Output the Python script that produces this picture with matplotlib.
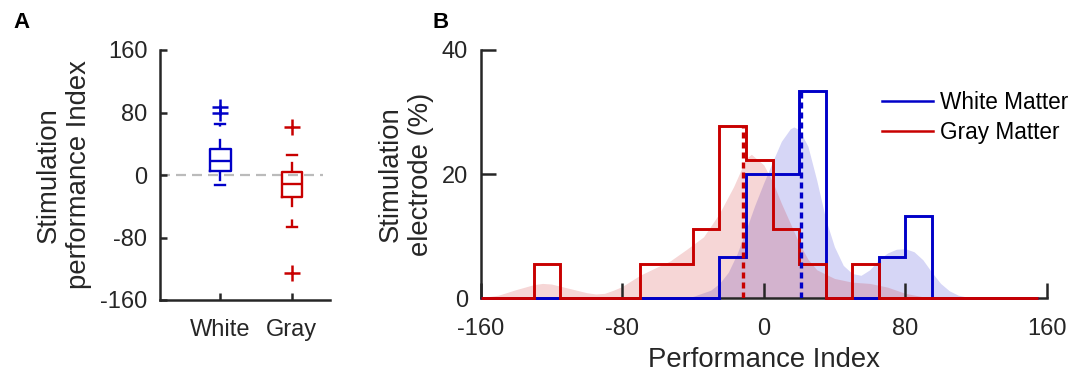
import numpy as np
import matplotlib
matplotlib.use("Agg")
import matplotlib.pyplot as plt
from matplotlib.lines import Line2D

plt.rcParams['font.family'] = ['Liberation Sans', 'DejaVu Sans']

# ---- Panel A: box plot summaries of the stimulation performance index ----
box_labels = ["White", "Gray"]
white_box = dict(whislo=-13, q1=5, med=18, q3=33, whishi=65, fliers=[80, 87])
gray_box = dict(whislo=-66, q1=-28, med=-12, q3=4, whishi=25, fliers=[62, -125])

# ---- Panel B: histograms (% of electrodes) and smoothed densities ----
bin_edges = np.arange(-160, 156, 15)
white_pct = [0, 0, 0, 0, 0, 0, 0, 0, 0, 6.67, 20.0, 20.0, 33.33, 0, 0, 6.67, 13.33, 0, 0, 0, 0]
gray_pct = [0, 0, 5.56, 0, 0, 0, 5.56, 5.56, 11.11, 27.78, 22.22, 11.11, 5.56, 0, 5.56, 0, 0, 0, 0, 0, 0]

white_center = 21.0
gray_center = -11.5

white_kde_x = [-50, -40, -30, -25, -20, -15, -10, -5, 0, 5, 10, 15, 17, 20, 25, 30, 35, 40, 45,
               50, 55, 60, 65, 70, 75, 80, 85, 90, 95, 100, 105, 110, 115, 125]
white_kde_y = [0, 0.3, 1.3, 2.4, 4.2, 7.2, 11.0, 15.0, 18.6, 22.0, 25.3, 27.3, 27.6, 27.2, 24.5,
               19.0, 12.8, 8.3, 5.3, 4.0, 3.7, 4.6, 6.2, 7.3, 7.9, 8.0, 7.5, 6.2, 4.2, 2.4, 1.2, 0.5, 0.2, 0]

gray_kde_x = [-160, -150, -140, -130, -125, -120, -110, -100, -95, -90, -85, -80, -70, -62, -53,
              -44, -34, -25, -17, -10, -7, 0, 5, 10, 15, 20, 25, 30, 35, 40, 50, 60, 70, 80, 90, 100, 110]
gray_kde_y = [0.1, 0.5, 1.4, 2.2, 2.4, 2.3, 1.6, 0.9, 0.7, 0.8, 1.3, 1.9, 3.7, 4.8, 6.0,
              7.8, 9.9, 13.7, 18.0, 22.5, 23.2, 21.5, 18.8, 15.3, 12.1, 8.9, 6.3, 4.6, 3.9, 3.2,
              2.6, 2.4, 1.8, 0.8, 0.25, 0.05, 0]

blue = '#0000C8'
red = '#C80000'
axis_col = '#262626'

fig = plt.figure(figsize=(10.73, 3.76), dpi=100)

# ---------------- Panel A ----------------
axA = fig.add_axes([160 / 1073, 1 - 300 / 376, 170 / 1073, 250 / 376])
axA.axhline(0, xmin=0, xmax=0.96, color='#BBBBBB', lw=1.6, ls=(0, (4.5, 2.7)), zorder=1)

for pos, st, col in [(1, white_box, blue), (2, gray_box, red)]:
    axA.bxp([st], positions=[pos], widths=0.29, capwidths=0.13, showfliers=True,
            manage_ticks=False,
            boxprops=dict(color=col, lw=1.7),
            medianprops=dict(color=col, lw=1.7),
            whiskerprops=dict(color=col, lw=1.7, ls=(0, (4.3, 5.2))),
            capprops=dict(color=col, lw=1.7),
            flierprops=dict(marker='+', markersize=12, markeredgewidth=1.8,
                            markeredgecolor=col, linestyle='none'))

axA.set_xlim(0.163, 2.53)
axA.set_ylim(-160, 160)
axA.set_yticks([-160, -80, 0, 80, 160])
axA.set_yticklabels(['-160', '-80', '0', '80', '160'])
axA.set_xticks([1, 2])
axA.set_xticklabels(box_labels)
axA.set_ylabel('Stimulation\nperformance Index', fontsize=19.8, color=axis_col, labelpad=6)

# ---------------- Panel B ----------------
axB = fig.add_axes([480.7 / 1073, 1 - 298.3 / 376, 566 / 1073, 248.3 / 376])

axB.fill_between(white_kde_x, white_kde_y, color=blue, alpha=0.16, lw=0, zorder=1)
axB.fill_between(gray_kde_x, gray_kde_y, color=red, alpha=0.16, lw=0, zorder=1)

axB.stairs(white_pct, bin_edges, baseline=0, fill=False, color=blue, lw=2.1,
           zorder=3, clip_on=False, label='White Matter')
axB.stairs(gray_pct, bin_edges, baseline=0, fill=False, color=red, lw=2.1,
           zorder=3.1, clip_on=False, label='Gray Matter')

axB.vlines(white_center, 0, max(white_pct), color=blue, lw=2.4, ls=(0, (1.8, 1.2)), zorder=3.2)
axB.vlines(gray_center, 0, max(gray_pct), color=red, lw=2.4, ls=(0, (1.8, 1.2)), zorder=3.2)

axB.set_xlim(-160, 160)
axB.set_ylim(0, 40)
axB.set_xticks([-160, -80, 0, 80, 160])
axB.set_xticklabels(['-160', '-80', '0', '80', '160'])
axB.set_yticks([0, 20, 40])
axB.set_xlabel('Performance Index', fontsize=19.8, color=axis_col, labelpad=5)
axB.set_ylabel('Stimulation\nelectrode (%)', fontsize=19.8, color=axis_col, labelpad=6)

handles = [Line2D([], [], color=blue, lw=1.8), Line2D([], [], color=red, lw=1.8)]
fig.legend(handles, ['White Matter', 'Gray Matter'], loc='upper left',
           bbox_to_anchor=(881.7 / 1073, 1 - 91 / 376), frameon=False, fontsize=16.3,
           handlelength=2.25, handletextpad=0.32, labelspacing=0.3, borderaxespad=0,
           borderpad=0)

for ax, tlen in [(axA, 5.0), (axB, 10.5)]:
    for side in ['top', 'right']:
        ax.spines[side].set_visible(False)
    for side in ['left', 'bottom']:
        ax.spines[side].set_linewidth(1.8)
        ax.spines[side].set_color(axis_col)
    ax.tick_params(direction='in', length=tlen, width=1.8, color=axis_col,
                   labelsize=17, labelcolor=axis_col)
    ax.tick_params(axis='y', pad=9)
    ax.tick_params(axis='x', pad=14)
    ax.patch.set_visible(False)

fig.text(13 / 1073, 1 - 22 / 376, 'A', fontsize=16, fontweight='bold', va='center', ha='left')
fig.text(432 / 1073, 1 - 22 / 376, 'B', fontsize=16, fontweight='bold', va='center', ha='left')

fig.savefig('out.png', dpi=100)
